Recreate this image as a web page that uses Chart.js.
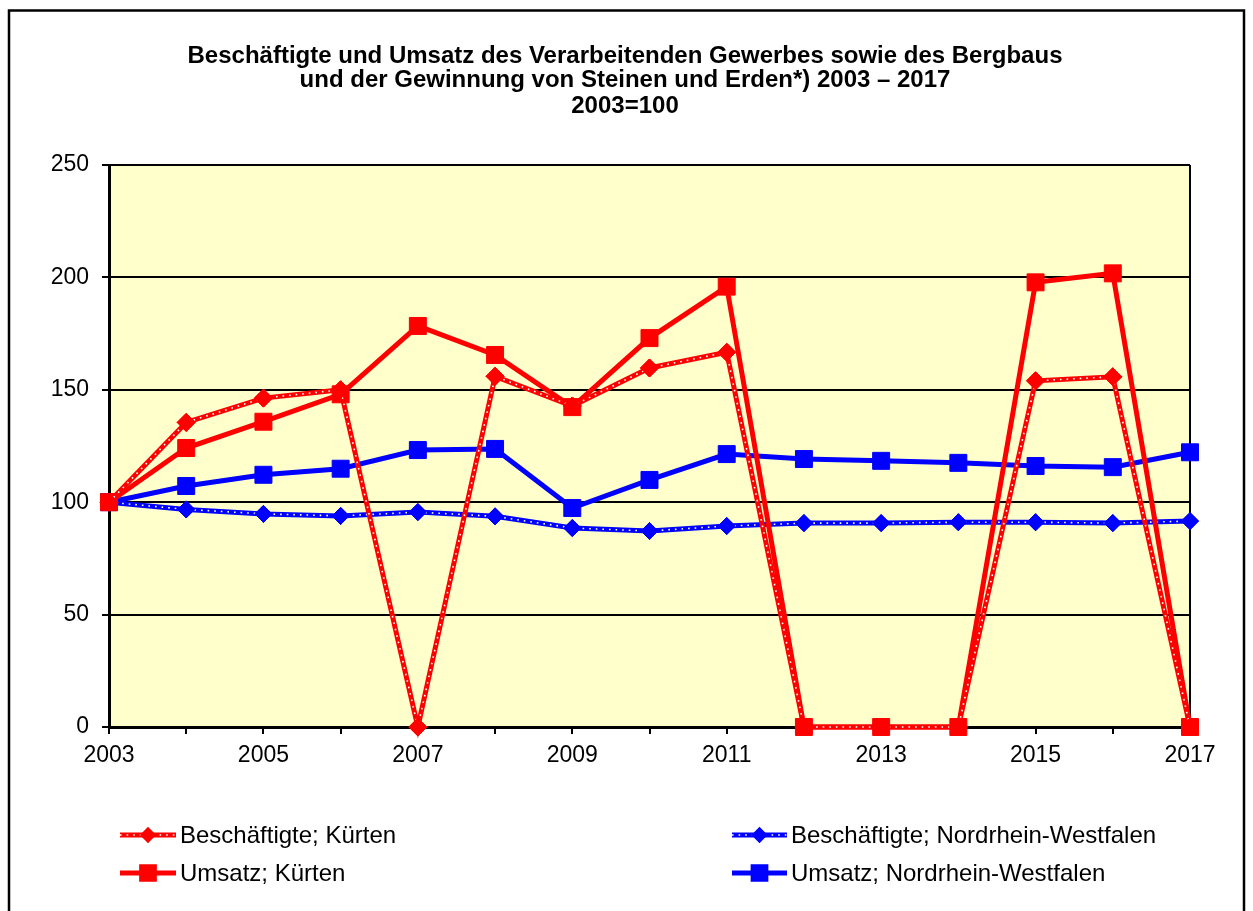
<!DOCTYPE html>
<html>
<head>
<meta charset="utf-8">
<title>Beschäftigte und Umsatz 2003 – 2017</title>
<script src="https://cdn.jsdelivr.net/npm/chart.js@4/dist/chart.umd.min.js"></script>
<style>
  html, body { margin: 0; padding: 0; background: #fff; }
  #wrap { width: 1253px; height: 911px; }
</style>
</head>
<body>
<div id="wrap"><canvas id="chart" width="1253" height="911"></canvas></div>
<script>
// Daten (2003 = 100)
const jahre = ['2003', '2004', '2005', '2006', '2007', '2008', '2009', '2010',
               '2011', '2012', '2013', '2014', '2015', '2016', '2017'];
const beschaeftigteKuerten = [100, 135.5, 146.3, 150, 0, 156, 142.8, 159.7, 166.7, 0, 0, 0, 154, 155.8, 0];
const umsatzKuerten = [100, 124.1, 135.8, 148, 178.4, 165.5, 142.3, 173, 195.9, 0, 0, 0, 197.8, 201.8, 0];
const beschaeftigteNRW = [100, 96.8, 94.8, 93.9, 95.6, 93.7, 88.5, 87.2, 89.4, 90.7, 90.7, 91.1, 91.1, 90.7, 91.6];
const umsatzNRW = [100, 107.2, 112.2, 114.9, 123.2, 123.7, 97.4, 109.9, 121.4, 119.2, 118.4, 117.5, 116.1, 115.6, 122.2];
const yTicks = [0, 50, 100, 150, 200, 250];

const titelZeilen = [
    'Beschäftigte und Umsatz des Verarbeitenden Gewerbes sowie des Bergbaus',
    'und der Gewinnung von Steinen und Erden*) 2003 – 2017',
    '2003=100'
];

const ROT = '#FF0000';
const BLAU = '#0000FF';

Chart.defaults.font.family = "'Liberation Sans', Arial, sans-serif";
Chart.defaults.color = '#000';

// Rahmen, Hintergrund, Titel, gepunktete Linien und Legende
const dekoPlugin = {
    id: 'deko',
    beforeDraw(chart) {
        const { ctx, chartArea: a } = chart;
        ctx.save();
        ctx.fillStyle = '#FFFFCC';
        ctx.fillRect(a.left, a.top, a.right - a.left, a.bottom - a.top);
        ctx.restore();
    },
    beforeDatasetsDraw(chart) {
        const { ctx, chartArea: a } = chart;
        ctx.save();
        ctx.strokeStyle = '#000';
        ctx.lineWidth = 2;
        ctx.beginPath();
        ctx.moveTo(a.right, a.top);
        ctx.lineTo(a.right, a.bottom);
        ctx.stroke();
        ctx.restore();
    },
    afterDatasetDraw(chart, args) {
        const ds = chart.data.datasets[args.index];
        if (!ds.gepunktet) return;
        const ctx = chart.ctx;
        const punkte = args.meta.data;
        ctx.save();
        ctx.strokeStyle = '#fff';
        ctx.lineWidth = 1.6;
        ctx.setLineDash([1.6, 5]);
        ctx.beginPath();
        punkte.forEach((p, i) => i ? ctx.lineTo(p.x, p.y) : ctx.moveTo(p.x, p.y));
        ctx.stroke();
        ctx.restore();
        // Marker wieder obendrauf
        punkte.forEach(p => p.draw(ctx));
    },
    afterDraw(chart) {
        const ctx = chart.ctx;
        ctx.save();

        // äußerer Rahmen
        ctx.strokeStyle = '#000';
        ctx.lineWidth = 2.5;
        ctx.strokeRect(9, 10.5, 1235, 920);

        // Titel
        ctx.fillStyle = '#000';
        ctx.font = "bold 24px 'Liberation Sans', Arial, sans-serif";
        ctx.textAlign = 'center';
        ctx.textBaseline = 'alphabetic';
        const basis = [63, 87, 113];
        titelZeilen.forEach((z, i) => ctx.fillText(z, 625, basis[i]));

        // Legende (2 Spalten)
        const plaetze = [
            { x1: 120, x2: 176, y: 835 },
            { x1: 120, x2: 176, y: 873 },
            { x1: 732, x2: 787, y: 835 },
            { x1: 732, x2: 787, y: 873 }
        ];
        ctx.font = "24px 'Liberation Sans', Arial, sans-serif";
        ctx.textAlign = 'left';
        ctx.textBaseline = 'middle';
        chart.data.datasets.forEach((ds, i) => {
            const p = plaetze[i];
            ctx.strokeStyle = ds.borderColor;
            ctx.lineWidth = 5;
            ctx.setLineDash([]);
            ctx.beginPath();
            ctx.moveTo(p.x1, p.y);
            ctx.lineTo(p.x2, p.y);
            ctx.stroke();
            if (ds.gepunktet) {
                ctx.strokeStyle = '#fff';
                ctx.lineWidth = 1.6;
                ctx.setLineDash([1.6, 5]);
                ctx.beginPath();
                ctx.moveTo(p.x1, p.y);
                ctx.lineTo(p.x2, p.y);
                ctx.stroke();
                ctx.setLineDash([]);
            }
            ctx.fillStyle = ds.borderColor;
            ctx.strokeStyle = ds.borderColor;
            Chart.helpers.drawPoint(ctx, {
                pointStyle: ds.pointStyle,
                radius: ds.pointStyle === 'rect' ? 9 : 7,
                rotation: 0,
                borderWidth: 1
            }, (p.x1 + p.x2) / 2, p.y);
            ctx.fillStyle = '#000';
            ctx.fillText(ds.label, p.x2 + 4, p.y + 1);
        });
        ctx.restore();
    }
};

new Chart(document.getElementById('chart'), {
    type: 'line',
    data: {
        labels: jahre,
        datasets: [
            {
                label: 'Beschäftigte; Kürten',
                data: beschaeftigteKuerten,
                borderColor: ROT,
                backgroundColor: ROT,
                borderWidth: 5,
                pointStyle: 'rectRot',
                pointRadius: 9,
                gepunktet: true,
                order: 1
            },
            {
                label: 'Umsatz; Kürten',
                data: umsatzKuerten,
                borderColor: ROT,
                backgroundColor: ROT,
                borderWidth: 5,
                pointStyle: 'rect',
                pointRadius: 12,
                order: 1
            },
            {
                label: 'Beschäftigte; Nordrhein-Westfalen',
                data: beschaeftigteNRW,
                borderColor: BLAU,
                backgroundColor: BLAU,
                borderWidth: 5,
                pointStyle: 'rectRot',
                pointRadius: 8.5,
                gepunktet: true,
                order: 2
            },
            {
                label: 'Umsatz; Nordrhein-Westfalen',
                data: umsatzNRW,
                borderColor: BLAU,
                backgroundColor: BLAU,
                borderWidth: 5,
                pointStyle: 'rect',
                pointRadius: 12,
                order: 2
            }
        ]
    },
    options: {
        responsive: false,
        animation: false,
        devicePixelRatio: 1,
        datasets: {
            line: { tension: 0, clip: false, pointBorderWidth: 1 }
        },
        layout: { padding: { top: 165, right: 63, left: 0, bottom: 0 } },
        scales: {
            x: {
                grid: {
                    drawOnChartArea: false,
                    color: '#000',
                    lineWidth: 2,
                    tickLength: 7
                },
                border: { color: '#000', width: 3 },
                ticks: {
                    autoSkip: false,
                    maxRotation: 0,
                    padding: 8,
                    font: { size: 23 },
                    // nur jedes zweite Jahr beschriften
                    callback: (v, i) => (i % 2 === 0 ? jahre[i] : '')
                },
                afterFit: (scale) => { scale.height = 184; }
            },
            y: {
                min: yTicks[0],
                max: yTicks[yTicks.length - 1],
                afterBuildTicks: (scale) => { scale.ticks = yTicks.map(v => ({ value: v })); },
                grid: { color: '#000', lineWidth: 2, tickLength: 7 },
                border: { color: '#000', width: 3 },
                ticks: { padding: 13, font: { size: 23 } },
                afterFit: (scale) => { scale.width = 109; }
            }
        },
        plugins: {
            legend: { display: false },
            title: { display: false },
            tooltip: { enabled: false }
        }
    },
    plugins: [dekoPlugin]
});
</script>
</body>
</html>
